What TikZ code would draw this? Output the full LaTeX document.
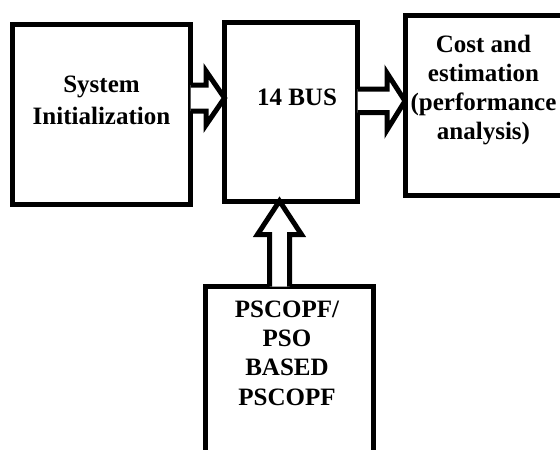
\documentclass[tikz,border=0pt]{standalone}
\usepackage{fontspec}
\setmainfont{Liberation Serif}
\usetikzlibrary{positioning, calc}

\begin{document}
\begin{tikzpicture}[x=1pt, y=-1pt,
		block/.style={draw, line width=5pt, outer sep=0pt, inner sep=0pt},
		blocktext/.style={inner sep=0pt, align=center, font=\bfseries\fontsize{25}{29.3}\selectfont},
		hollow/.style={draw, line width=5pt, line join=miter, fill=white}]
		\useasboundingbox (0,0) rectangle (560,450);
		
		%----------------------------------------------------------------
		\node(init) [block, minimum width=178pt, minimum height=179.5pt] at (101.5,114.25) {};
		\node(bus) [block, minimum width=133pt, minimum height=178.5pt] at (291,111.75) {};
		\node(cost) [block, minimum width=158pt, minimum height=180.5pt] at (484,105.25) {};
		\node(pscopf) [block, minimum width=167.5pt, minimum height=173.5pt] at (289.25,373.25) {};
		
		%----------------------------------------------------------------
		\node(inittext) [blocktext, font=\bfseries\fontsize{25}{32}\selectfont] at (101.5,100.5) {System \\ Initialization};
		\node(bustext) [blocktext] at (297,97.5) {14 BUS};
		\node(costtext) [blocktext] at (483.5,90) {Cost and \\ estimation \\ (performance \\ analysis)};
		\node(pscopftext) [blocktext] at (287,353) {PSCOPF/ \\ PSO \\ BASED \\ PSCOPF};
		
		%----------------------------------------------------------------
		\draw [hollow]
		(init.east |- 0,85) -- (206,85) -- (206,71) -- (bus.west |- 0,98)
		-- (206,125) -- (206,111) -- (init.east |- 0,111);
		\draw [hollow]
		(bus.east |- 0,89) -- (387,89) -- (387,73) -- (cost.west |- 0,101)
		-- (387,130) -- (387,112.5) -- (bus.east |- 0,112.5);
		\draw [hollow]
		(pscopf.north -| 269.5,0) -- (269.5,234.5) -- (257.5,234.5) -- (bus.south -| 279.5,0)
		-- (301.5,234.5) -- (289.5,234.5) -- (pscopf.north -| 289.5,0);
		
	\end{tikzpicture}
\end{document}
